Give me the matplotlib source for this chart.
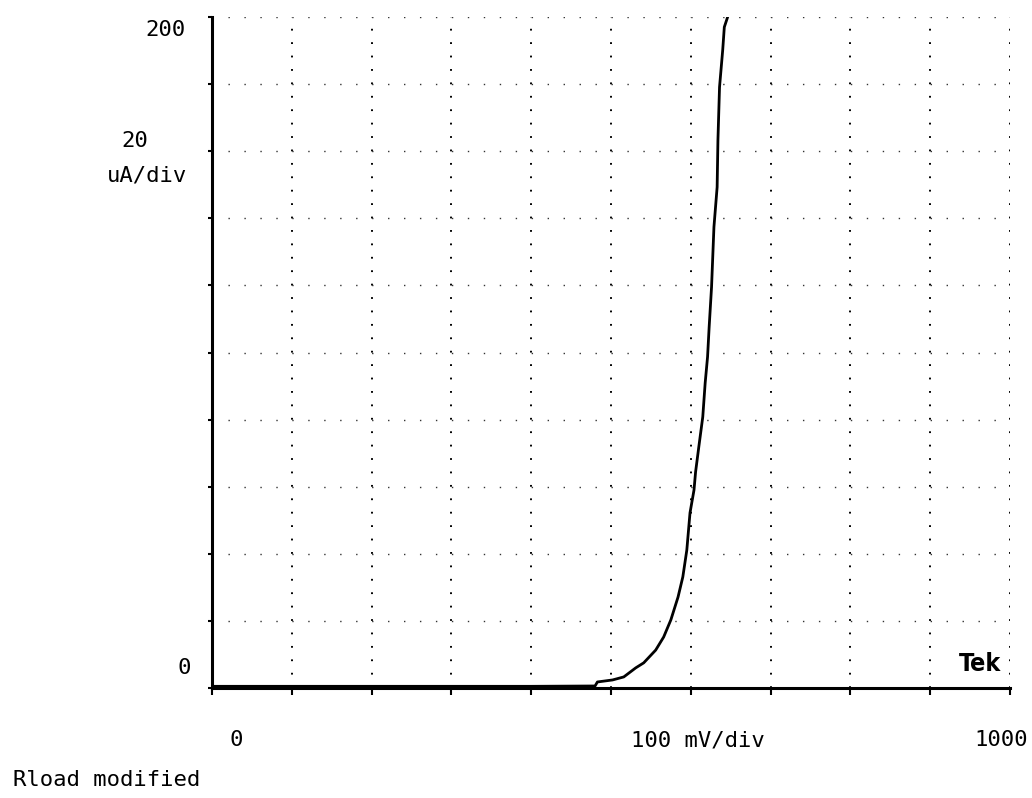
import numpy as np
import matplotlib.pyplot as plt

# ----------------------------------
# Data
# ----------------------------------
voltage_mV = [0, 100, 200, 300, 400, 480, 483, 502, 516, 531, 541, 556, 566, 575,
              584, 590, 595, 599, 604, 606, 610, 615, 618, 621, 623, 626, 629,
              633, 634, 636, 640, 642, 647]
current_uA = [0.5, 0.5, 0.5, 0.5, 0.5, 0.6, 1.8, 2.4, 3.3, 6.0, 7.5, 11.3, 15.2, 20.3,
              27.1, 33.1, 41.1, 52.2, 59.0, 64.4, 71.8, 80.8, 90.9, 98.7, 107.6, 119.5,
              137.4, 149.3, 163.3, 179.1, 190.2, 197.0, 200.6]

x_max, x_step = 1000, 100
y_max, y_step = 200, 20

plt.rcParams['lines.scale_dashes'] = False
mono = 'DejaVu Sans Mono'

fig = plt.figure(figsize=(10.32, 7.98), dpi=100)
ax = fig.add_axes([212 / 1032, 1 - 688 / 798, (1010 - 212) / 1032, (688 - 17) / 798])
ax.set_xlim(0, x_max)
ax.set_ylim(0, y_max)

# dotted graticule, dots at every 1/5 division
for xv in np.arange(x_step, x_max + 1, x_step):
    ax.axvline(xv, color='black', linewidth=1.4, dashes=(1.3, 8.36), zorder=1)
for yv in np.arange(y_step, y_max + 1, y_step):
    ax.axhline(yv, color='#333333', linewidth=1.0, dashes=(1.0, 10.49), zorder=1)

ax.plot(voltage_mV, current_uA, color='black', linewidth=2.0, zorder=3)

for side in ['top', 'right']:
    ax.spines[side].set_visible(False)
for side in ['left', 'bottom']:
    ax.spines[side].set_linewidth(2.2)

ax.set_xticks(np.arange(0, x_max + 1, x_step))
ax.set_yticks(np.arange(0, y_max + 1, y_step))
ax.tick_params(axis='x', direction='out', length=5, width=1.5, labelbottom=False)
ax.tick_params(axis='y', direction='out', length=3, width=1.5, labelleft=False)

# labels, in the style of the instrument screen
ax.text(-0.033, 0.981, '200', transform=ax.transAxes, ha='right', va='center',
        fontsize=16, family=mono)
ax.text(-0.097, 0.815, '20', transform=ax.transAxes, ha='center', va='center',
        fontsize=16, family=mono)
ax.text(-0.081, 0.764, 'uA/div', transform=ax.transAxes, ha='center', va='center',
        fontsize=16, family=mono)
ax.text(-0.035, 0.030, '0', transform=ax.transAxes, ha='center', va='center',
        fontsize=16, family=mono)
ax.text(0.030, -0.078, '0', transform=ax.transAxes, ha='center', va='center',
        fontsize=16, family=mono)
ax.text(0.609, -0.078, '100 mV/div', transform=ax.transAxes, ha='center', va='center',
        fontsize=16, family=mono)
ax.text(0.989, -0.078, '1000', transform=ax.transAxes, ha='center', va='center',
        fontsize=16, family=mono)
ax.text(0.989, 0.036, 'Tek', transform=ax.transAxes, ha='right', va='center',
        fontsize=18, fontweight='bold', family='DejaVu Sans', fontstretch='condensed')
fig.text(13 / 1032, 1 - 780 / 798, 'Rload modified', ha='left', va='center',
         fontsize=16, family=mono)

fig.savefig('out.png', dpi=100, facecolor='white')
